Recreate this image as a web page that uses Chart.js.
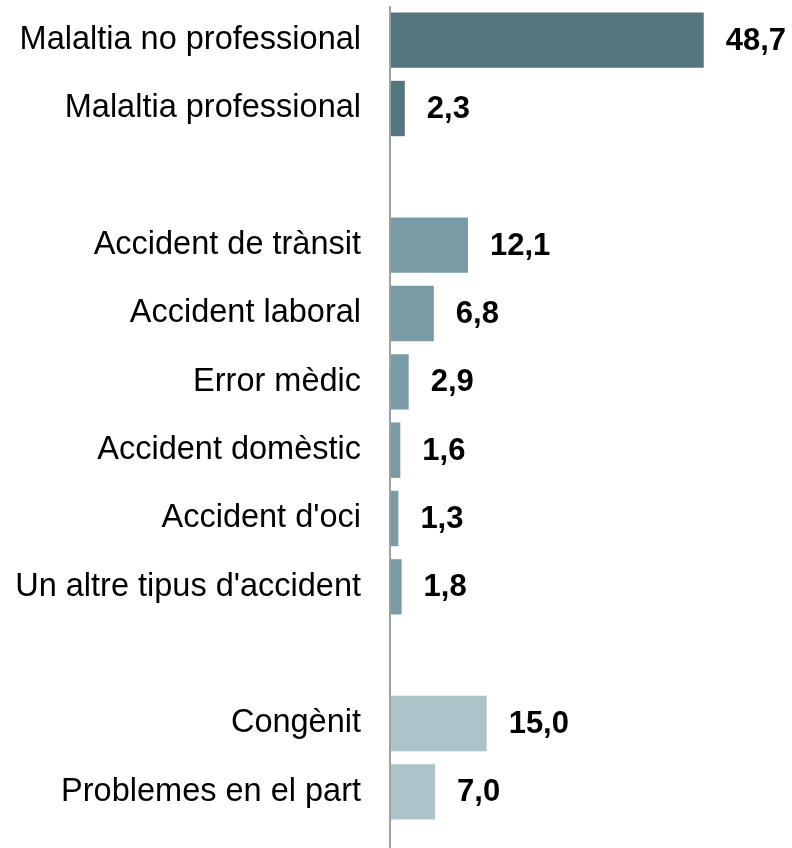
<!DOCTYPE html>
<html>
<head>
<meta charset="utf-8">
<script src="https://cdn.jsdelivr.net/npm/chart.js@4/dist/chart.umd.min.js"></script>
<style>
html,body{margin:0;padding:0;background:#fff;}
#wrap{width:792px;height:848px;position:relative;}
</style>
</head>
<body>
<div id="wrap"><canvas id="c"></canvas></div>
<script>
const categories = [
  "Malaltia no professional",
  "Malaltia professional",
  "",
  "Accident de trànsit",
  "Accident laboral",
  "Error mèdic",
  "Accident domèstic",
  "Accident d'oci",
  "Un altre tipus d'accident",
  "",
  "Congènit",
  "Problemes en el part"
];
const values = [48.7, 2.3, null, 12.1, 6.8, 2.9, 1.6, 1.3, 1.8, null, 15.0, 7.0];
const groups = [0, 0, null, 1, 1, 1, 1, 1, 1, null, 2, 2];
const groupColors = ["#54757f", "#789ba6", "#abc3c9"];

const valueLabels = {
  id: 'valueLabels',
  afterDatasetsDraw(chart) {
    const ctx = chart.ctx;
    const meta = chart.getDatasetMeta(0);
    ctx.save();
    ctx.font = 'bold 31px "Liberation Sans", Arial, sans-serif';
    ctx.fillStyle = '#000';
    ctx.textAlign = 'left';
    ctx.textBaseline = 'middle';
    meta.data.forEach((bar, i) => {
      const v = values[i];
      if (v === null) return;
      const txt = v.toFixed(1).replace('.', ',');
      ctx.fillText(txt, bar.x + 22, bar.y + 1);
    });
    ctx.restore();
  }
};

const axisLine = {
  id: 'axisLine',
  afterDatasetsDraw(chart) {
    const ctx = chart.ctx;
    const x = chart.scales.x.getPixelForValue(0);
    ctx.save();
    ctx.strokeStyle = '#a0a0a0';
    ctx.lineWidth = 2;
    ctx.beginPath();
    ctx.moveTo(x, chart.chartArea.top);
    ctx.lineTo(x, chart.height);
    ctx.stroke();
    ctx.restore();
  }
};

new Chart(document.getElementById('c'), {
  type: 'bar',
  data: {
    labels: categories,
    datasets: [{
      data: values,
      backgroundColor: groups.map(g => g === null ? 'transparent' : groupColors[g]),
      borderWidth: 0,
      barPercentage: 0.81,
      categoryPercentage: 1.0
    }]
  },
  options: {
    indexAxis: 'y',
    responsive: true,
    maintainAspectRatio: false,
    animation: false,
    layout: { padding: { top: 6, bottom: 22, left: 0, right: 0 } },
    plugins: {
      legend: { display: false },
      tooltip: { enabled: false }
    },
    scales: {
      x: {
        display: false,
        min: 0,
        max: 62.4
      },
      y: {
        grid: { display: false, drawTicks: false },
        border: { display: false },
        afterFit(scale) {
          scale.width = 390;
          scale.paddingTop = 0;
          scale.paddingBottom = 0;
        },
        ticks: {
          padding: 29,
          color: '#000',
          autoSkip: false,
          font: { family: '"Liberation Sans", Arial, sans-serif', size: 32.5 }
        }
      }
    }
  },
  plugins: [valueLabels, axisLine]
});
</script>
</body>
</html>
